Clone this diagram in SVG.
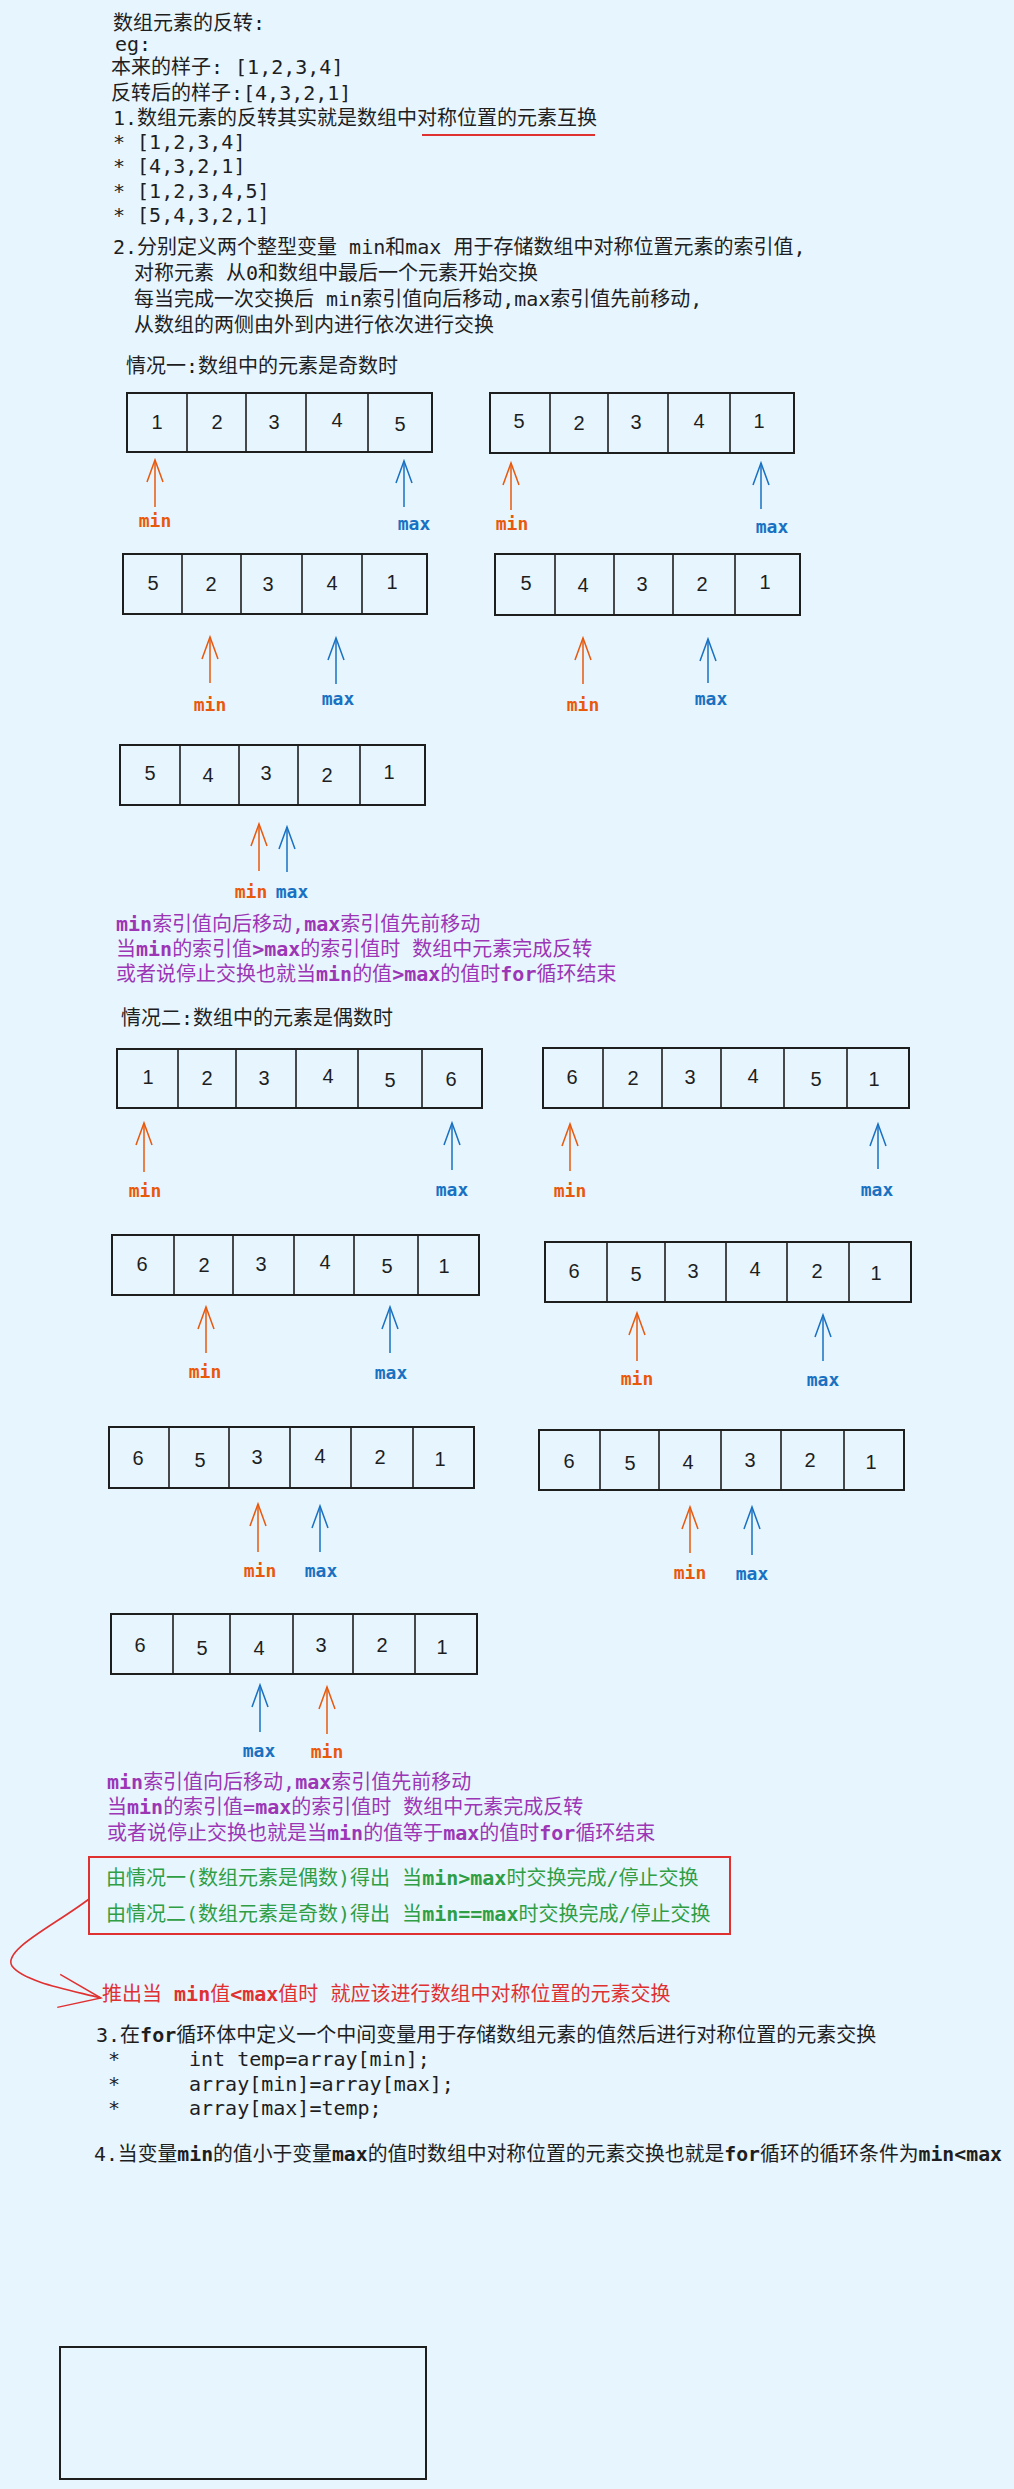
<svg xmlns="http://www.w3.org/2000/svg" width="1014" height="2489" viewBox="0 0 1014 2489">
<style>
.t{font-family:"DejaVu Sans Mono","Noto Sans CJK SC",monospace;font-size:20px;fill:#1e1e1e}
.b{font-weight:bold}
.pu{fill:#9c36b5}
.gr{fill:#2f9e44}
.rd{fill:#e03131}
.box{fill:none;stroke:#1e1e1e;stroke-width:2}
.cell{stroke:#1e1e1e;stroke-width:1.6}
.n{font-family:"Liberation Sans","DejaVu Sans",sans-serif;font-size:20px;fill:#1e1e1e;text-anchor:middle}
.lmin{font-family:"DejaVu Sans Mono",monospace;font-size:18px;font-weight:bold;fill:#e8590c;text-anchor:middle}
.lmax{font-family:"DejaVu Sans Mono",monospace;font-size:18px;font-weight:bold;fill:#1971c2;text-anchor:middle}
.amin{stroke:#e8590c;stroke-width:1.5;fill:none;marker-end:url(#hmin)}
.amax{stroke:#1971c2;stroke-width:1.5;fill:none;marker-end:url(#hmax)}
</style>
<defs>
<marker id="hmin" markerUnits="userSpaceOnUse" markerWidth="30" markerHeight="24" viewBox="-26 -12 30 24" refX="0" refY="0" orient="auto" overflow="visible"><path d="M-22,-8 L0,0 L-22,8" fill="none" stroke="#e8590c" stroke-width="1.5"/></marker>
<marker id="hmax" markerUnits="userSpaceOnUse" markerWidth="30" markerHeight="24" viewBox="-26 -12 30 24" refX="0" refY="0" orient="auto" overflow="visible"><path d="M-22,-8 L0,0 L-22,8" fill="none" stroke="#1971c2" stroke-width="1.5"/></marker>
<marker id="hred" markerUnits="userSpaceOnUse" markerWidth="40" markerHeight="40" viewBox="-40 -20 44 40" refX="0" refY="0" orient="auto" overflow="visible"><path d="M-50,-14 L0,0 L-44,22" fill="none" stroke="#e03131" stroke-width="1.6"/></marker>
</defs>
<rect x="0" y="0" width="1014" height="2489" fill="#e7f5ff"/>

<g id="intro">
<text class="t" x="113" y="30">数组元素的反转:</text>
<text class="t" x="115" y="51">eg:</text>
<text class="t" x="111" y="74">本来的样子: [1,2,3,4]</text>
<text class="t" x="111" y="100">反转后的样子:[4,3,2,1]</text>
<text class="t" x="113" y="125">1.数组元素的反转其实就是数组中对称位置的元素互换</text>
<line x1="422" y1="135" x2="595" y2="135" stroke="#e03131" stroke-width="2"/>
<text class="t" x="113" y="149">* [1,2,3,4]</text>
<text class="t" x="113" y="173">* [4,3,2,1]</text>
<text class="t" x="113" y="198">* [1,2,3,4,5]</text>
<text class="t" x="113" y="222">* [5,4,3,2,1]</text>
<text class="t" x="113" y="254">2.分别定义两个整型变量 min和max 用于存储数组中对称位置元素的索引值,</text>
<text class="t" x="134" y="280">对称元素 从0和数组中最后一个元素开始交换</text>
<text class="t" x="134" y="306">每当完成一次交换后 min索引值向后移动,max索引值先前移动,</text>
<text class="t" x="134" y="332">从数组的两侧由外到内进行依次进行交换</text>
</g>

<g id="heading-odd"><text class="t" x="126" y="373">情况一:数组中的元素是奇数时</text></g>

<g id="arr-o1a">
<rect class="box" x="127" y="393" width="305" height="59"/>
<path class="cell" d="M187,393V452M246,393V452M306,393V452M368,393V452"/>
<text class="n" x="157" y="429">1</text><text class="n" x="217" y="429">2</text><text class="n" x="274" y="429">3</text><text class="n" x="337" y="427">4</text><text class="n" x="400" y="431">5</text>
</g>
<g id="arr-o1b">
<rect class="box" x="490" y="393" width="304" height="60"/>
<path class="cell" d="M550,393V453M608,393V453M668,393V453M730,393V453"/>
<text class="n" x="519" y="428">5</text><text class="n" x="579" y="430">2</text><text class="n" x="636" y="429">3</text><text class="n" x="699" y="428">4</text><text class="n" x="759" y="428">1</text>
</g>
<g id="arr-o2a">
<rect class="box" x="123" y="554" width="304" height="60"/>
<path class="cell" d="M182,554V614M241,554V614M302,554V614M362,554V614"/>
<text class="n" x="153" y="590">5</text><text class="n" x="211" y="591">2</text><text class="n" x="268" y="591">3</text><text class="n" x="332" y="590">4</text><text class="n" x="392" y="589">1</text>
</g>
<g id="arr-o2b">
<rect class="box" x="495" y="554" width="305" height="61"/>
<path class="cell" d="M555,554V615M614,554V615M673,554V615M735,554V615"/>
<text class="n" x="526" y="590">5</text><text class="n" x="583" y="592">4</text><text class="n" x="642" y="591">3</text><text class="n" x="702" y="591">2</text><text class="n" x="765" y="589">1</text>
</g>
<g id="arr-o3">
<rect class="box" x="120" y="745" width="305" height="60"/>
<path class="cell" d="M180,745V805M239,745V805M298,745V805M360,745V805"/>
<text class="n" x="150" y="780">5</text><text class="n" x="208" y="782">4</text><text class="n" x="266" y="780">3</text><text class="n" x="327" y="782">2</text><text class="n" x="389" y="779">1</text>
</g>

<g id="text-odd">
<text class="t pu" x="116" y="931"><tspan class="b">min</tspan>索引值向后移动,<tspan class="b">max</tspan>索引值先前移动</text>
<text class="t pu" x="116" y="956">当<tspan class="b">min</tspan>的索引值<tspan class="b">&gt;max</tspan>的索引值时 数组中元素完成反转</text>
<text class="t pu" x="116" y="981">或者说停止交换也就当<tspan class="b">min</tspan>的值<tspan class="b">&gt;max</tspan>的值时<tspan class="b">for</tspan>循环结束</text>
</g>

<g id="heading-even"><text class="t" x="121" y="1025">情况二:数组中的元素是偶数时</text></g>

<g id="arr-e1a">
<rect class="box" x="117" y="1049" width="365" height="59"/>
<path class="cell" d="M178,1049V1108M236,1049V1108M296,1049V1108M358,1049V1108M422,1049V1108"/>
<text class="n" x="148" y="1084">1</text><text class="n" x="207" y="1085">2</text><text class="n" x="264" y="1085">3</text><text class="n" x="328" y="1083">4</text><text class="n" x="390" y="1087">5</text><text class="n" x="451" y="1086">6</text>
</g>
<g id="arr-e1b">
<rect class="box" x="543" y="1048" width="366" height="60"/>
<path class="cell" d="M603,1048V1108M662,1048V1108M721,1048V1108M784,1048V1108M847,1048V1108"/>
<text class="n" x="572" y="1084">6</text><text class="n" x="633" y="1085">2</text><text class="n" x="690" y="1084">3</text><text class="n" x="753" y="1083">4</text><text class="n" x="816" y="1086">5</text><text class="n" x="874" y="1086">1</text>
</g>
<g id="arr-e2a">
<rect class="box" x="112" y="1235" width="367" height="60"/>
<path class="cell" d="M174,1235V1295M233,1235V1295M294,1235V1295M354,1235V1295M418,1235V1295"/>
<text class="n" x="142" y="1271">6</text><text class="n" x="204" y="1272">2</text><text class="n" x="261" y="1271">3</text><text class="n" x="325" y="1269">4</text><text class="n" x="387" y="1273">5</text><text class="n" x="444" y="1273">1</text>
</g>
<g id="arr-e2b">
<rect class="box" x="545" y="1242" width="366" height="60"/>
<path class="cell" d="M607,1242V1302M665,1242V1302M726,1242V1302M787,1242V1302M849,1242V1302"/>
<text class="n" x="574" y="1278">6</text><text class="n" x="636" y="1281">5</text><text class="n" x="693" y="1278">3</text><text class="n" x="755" y="1276">4</text><text class="n" x="817" y="1278">2</text><text class="n" x="876" y="1280">1</text>
</g>
<g id="arr-e3a">
<rect class="box" x="109" y="1427" width="365" height="61"/>
<path class="cell" d="M169,1427V1488M229,1427V1488M290,1427V1488M351,1427V1488M413,1427V1488"/>
<text class="n" x="138" y="1465">6</text><text class="n" x="200" y="1467">5</text><text class="n" x="257" y="1464">3</text><text class="n" x="320" y="1463">4</text><text class="n" x="380" y="1464">2</text><text class="n" x="440" y="1466">1</text>
</g>
<g id="arr-e3b">
<rect class="box" x="539" y="1430" width="365" height="60"/>
<path class="cell" d="M600,1430V1490M659,1430V1490M721,1430V1490M781,1430V1490M844,1430V1490"/>
<text class="n" x="569" y="1468">6</text><text class="n" x="630" y="1470">5</text><text class="n" x="688" y="1469">4</text><text class="n" x="750" y="1467">3</text><text class="n" x="810" y="1467">2</text><text class="n" x="871" y="1469">1</text>
</g>
<g id="arr-e4">
<rect class="box" x="111" y="1614" width="366" height="60"/>
<path class="cell" d="M173,1614V1674M230,1614V1674M293,1614V1674M353,1614V1674M415,1614V1674"/>
<text class="n" x="140" y="1652">6</text><text class="n" x="202" y="1655">5</text><text class="n" x="259" y="1655">4</text><text class="n" x="321" y="1652">3</text><text class="n" x="382" y="1652">2</text><text class="n" x="442" y="1654">1</text>
</g>

<g id="connectors">
<line class="amin" x1="155" y1="507" x2="155" y2="460"/>
<line class="amax" x1="404" y1="507" x2="404" y2="461"/>
<line class="amin" x1="511" y1="510" x2="511" y2="463"/>
<line class="amax" x1="761" y1="509" x2="761" y2="463"/>
<line class="amin" x1="210" y1="683" x2="210" y2="637"/>
<line class="amax" x1="336" y1="684" x2="336" y2="638"/>
<line class="amin" x1="583" y1="684" x2="583" y2="638"/>
<line class="amax" x1="708" y1="683" x2="708" y2="639"/>
<line class="amin" x1="259" y1="871" x2="259" y2="824"/>
<line class="amax" x1="287" y1="872" x2="287" y2="827"/>
<line class="amin" x1="144" y1="1172" x2="144" y2="1123"/>
<line class="amax" x1="452" y1="1170" x2="452" y2="1123"/>
<line class="amin" x1="570" y1="1171" x2="570" y2="1124"/>
<line class="amax" x1="878" y1="1169" x2="878" y2="1124"/>
<line class="amin" x1="206" y1="1353" x2="206" y2="1307"/>
<line class="amax" x1="390" y1="1353" x2="390" y2="1307"/>
<line class="amin" x1="637" y1="1361" x2="637" y2="1313"/>
<line class="amax" x1="823" y1="1361" x2="823" y2="1315"/>
<line class="amin" x1="258" y1="1552" x2="258" y2="1504"/>
<line class="amax" x1="320" y1="1552" x2="320" y2="1506"/>
<line class="amin" x1="690" y1="1553" x2="690" y2="1507"/>
<line class="amax" x1="752" y1="1555" x2="752" y2="1507"/>
<line class="amax" x1="260" y1="1732" x2="260" y2="1685"/>
<line class="amin" x1="327" y1="1734" x2="327" y2="1687"/>
<path d="M89,1899 C55,1925 2,1950 12,1966 C24,1982 70,1990 101,1998" fill="none" stroke="#e03131" stroke-width="1.6" marker-end="url(#hred)"/>
</g>

<g id="labels">
<text class="lmin" x="155" y="527">min</text>
<text class="lmax" x="414" y="530">max</text>
<text class="lmin" x="512" y="530">min</text>
<text class="lmax" x="772" y="533">max</text>
<text class="lmin" x="210" y="711">min</text>
<text class="lmax" x="338" y="705">max</text>
<text class="lmin" x="583" y="711">min</text>
<text class="lmax" x="711" y="705">max</text>
<text class="lmin" x="251" y="898">min</text>
<text class="lmax" x="292" y="898">max</text>
<text class="lmin" x="145" y="1197">min</text>
<text class="lmax" x="452" y="1196">max</text>
<text class="lmin" x="570" y="1197">min</text>
<text class="lmax" x="877" y="1196">max</text>
<text class="lmin" x="205" y="1378">min</text>
<text class="lmax" x="391" y="1379">max</text>
<text class="lmin" x="637" y="1385">min</text>
<text class="lmax" x="823" y="1386">max</text>
<text class="lmin" x="260" y="1577">min</text>
<text class="lmax" x="321" y="1577">max</text>
<text class="lmin" x="690" y="1579">min</text>
<text class="lmax" x="752" y="1580">max</text>
<text class="lmax" x="259" y="1757">max</text>
<text class="lmin" x="327" y="1758">min</text>
</g>

<g id="text-even">
<text class="t pu" x="107" y="1789"><tspan class="b">min</tspan>索引值向后移动,<tspan class="b">max</tspan>索引值先前移动</text>
<text class="t pu" x="107" y="1814">当<tspan class="b">min</tspan>的索引值=<tspan class="b">max</tspan>的索引值时 数组中元素完成反转</text>
<text class="t pu" x="107" y="1840">或者说停止交换也就是当<tspan class="b">min</tspan>的值等于<tspan class="b">max</tspan>的值时<tspan class="b">for</tspan>循环结束</text>
</g>

<g id="conclusion-box">
<rect x="89" y="1857" width="641" height="77" fill="none" stroke="#e03131" stroke-width="2"/>
<text class="t gr" x="106" y="1885">由情况一(数组元素是偶数)得出 当<tspan class="b">min&gt;max</tspan>时交换完成/停止交换</text>
<text class="t gr" x="106" y="1921">由情况二(数组元素是奇数)得出 当<tspan class="b">min==max</tspan>时交换完成/停止交换</text>
</g>

<g id="deduction">
<text class="t rd" x="102" y="2001">推出当 <tspan class="b">min</tspan>值<tspan class="b">&lt;max</tspan>值时 就应该进行数组中对称位置的元素交换</text>
</g>

<g id="step3">
<text class="t" x="96" y="2042">3.在<tspan class="b">for</tspan>循环体中定义一个中间变量用于存储数组元素的值然后进行对称位置的元素交换</text>
<text class="t" x="108" y="2066">*</text><text class="t" x="189" y="2066">int temp=array[min];</text>
<text class="t" x="108" y="2091">*</text><text class="t" x="189" y="2091">array[min]=array[max];</text>
<text class="t" x="108" y="2115">*</text><text class="t" x="189" y="2115">array[max]=temp;</text>
</g>

<g id="step4">
<text class="t" x="94" y="2161" textLength="908" lengthAdjust="spacingAndGlyphs">4.当变量<tspan class="b">min</tspan>的值小于变量<tspan class="b">max</tspan>的值时数组中对称位置的元素交换也就是<tspan class="b">for</tspan>循环的循环条件为<tspan class="b">min&lt;max</tspan></text>
</g>

<g id="empty-box">
<rect x="60" y="2347" width="366" height="132" fill="none" stroke="#1e1e1e" stroke-width="2"/>
</g>
</svg>
